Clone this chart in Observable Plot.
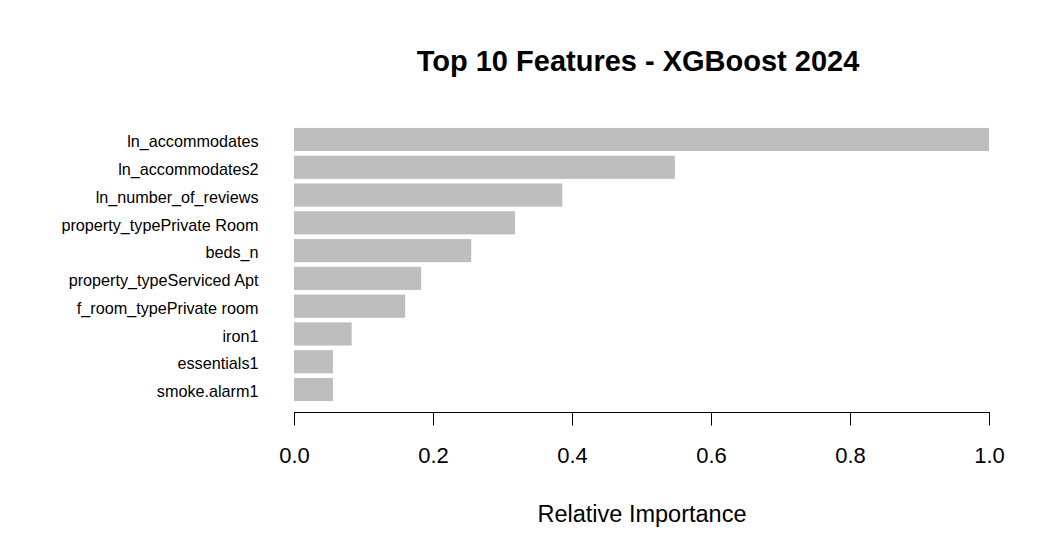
<!DOCTYPE html>
<html>
<head>
<meta charset="utf-8">
<script src="https://cdn.jsdelivr.net/npm/d3@7"></script>
<script src="https://cdn.jsdelivr.net/npm/@observablehq/plot@0.6"></script>
<style>
  html, body { margin: 0; padding: 0; background: white; }
  #title {
    box-sizing: border-box;
    width: 1050px; height: 100px;
    padding-top: 46.5px; padding-left: 226px;
    text-align: center;
    font-family: "Liberation Sans", Arial, sans-serif;
    font-weight: bold; font-size: 29px; line-height: 29px; color: black;
  }
</style>
</head>
<body>
<div id="title">Top 10 Features - XGBoost 2024</div>
<div id="chart"></div>
<script>
const features = [
  "ln_accommodates",
  "ln_accommodates2",
  "ln_number_of_reviews",
  "property_typePrivate Room",
  "beds_n",
  "property_typeServiced Apt",
  "f_room_typePrivate room",
  "iron1",
  "essentials1",
  "smoke.alarm1"
];
const importance = [1.0, 0.548, 0.386, 0.318, 0.255, 0.183, 0.160, 0.083, 0.056, 0.056];
const xTicks = [0, 0.2, 0.4, 0.6, 0.8, 1.0];
const xLabel = "Relative Importance";

const data = features.map((f, i) => ({feature: f, value: importance[i]}));

const chart = Plot.plot({
  width: 1050,
  height: 459,
  marginLeft: 294,
  marginRight: 61,
  marginTop: 17,
  marginBottom: 147,
  style: {fontFamily: "'Liberation Sans', Arial, sans-serif", color: "black", background: "white"},
  x: {domain: [0, 1]},
  y: {domain: features, paddingInner: 0.1667, paddingOuter: 0.393, round: false},
  marks: [
    Plot.barX(data, {x: "value", y: "feature", fill: "#BEBEBE"}),
    Plot.axisY({tickSize: 0, tickPadding: 36, fontSize: 16.2, dy: 2, label: null}),
    Plot.axisX({ticks: xTicks, tickFormat: d3.format(".1f"), tickSize: 13.5, tickPadding: 21, fontSize: 22, label: null}),
    Plot.frame({anchor: "bottom"}),
    Plot.text([xLabel], {frameAnchor: "bottom", dy: 109, fontSize: 23.5})
  ]
});
document.getElementById("chart").appendChild(chart);
</script>
</body>
</html>
